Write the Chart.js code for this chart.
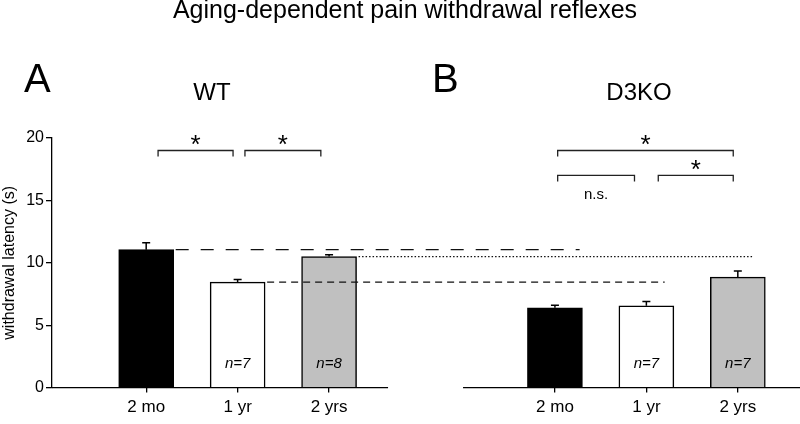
<!DOCTYPE html>
<html>
<head>
<meta charset="utf-8">
<script src="https://cdn.jsdelivr.net/npm/chart.js@4"></script>
<style>
  html, body { margin: 0; padding: 0; background: #fff; }
  #wrap { position: relative; width: 800px; height: 424px; }
</style>
</head>
<body>
<div id="wrap"><canvas id="chart" width="800" height="424"></canvas></div>
<script>
// data
const ages = ['2 mo', '1 yr', '2 yrs'];
const wtMean = [11.05, 8.45, 10.5];
const wtErr = [0.55, 0.22, 0.15];
const koMean = [6.4, 6.55, 8.85];
const koErr = [0.2, 0.35, 0.5];
const wtN = ['', 'n=7', 'n=8'];
const koN = ['', 'n=7', 'n=7'];
const yTicks = [0, 5, 10, 15, 20];

const barColors = ['#000000', '#ffffff', '#c0c0c0'];
const FONT = '"Liberation Sans", Arial, Helvetica, sans-serif';

// layout of the two panels on one linear x axis
const KO_SHIFT = 4.47;
const xPos = (g, i) => i + 1 + (g === 1 ? KO_SHIFT : 0);
const tickPos = [0, 1].flatMap(g => ages.map((a, i) => xPos(g, i)));
const tickLabels = ages.concat(ages);
const axisSpans = [[-0.03, 3.645], [4.465, 8.15]];

// dashed lines from the WT means across to B
const refLines = [
  { i: 0, to: 5.74, dash: [13, 12], width: 1.3 },
  { i: 1, to: 6.67, dash: [7, 5], width: 1.3 },
  { i: 2, to: 7.64, dash: [1.5, 2], width: 1.2 }
];

// significance brackets: x from, x to, level (s), label
const brackets = [
  { x1: 1.13, x2: 1.95, y: 19, text: '*' },
  { x1: 2.08, x2: 2.91, y: 19, text: '*' },
  { x1: 5.50, x2: 7.42, y: 19, text: '*' },
  { x1: 5.50, x2: 6.34, y: 17, text: 'n.s.', below: true },
  { x1: 6.60, x2: 7.42, y: 17, text: '*' }
];

const extras = {
  id: 'extras',
  afterDatasetsDraw(chart) {
    const ctx = chart.ctx;
    const xs = chart.scales.x, ys = chart.scales.y;
    const y0 = ys.getPixelForValue(0);
    ctx.save();

    // x axis, broken between the panels
    ctx.strokeStyle = '#000';
    ctx.lineWidth = 1.3;
    axisSpans.forEach(s => {
      ctx.beginPath();
      ctx.moveTo(xs.getPixelForValue(s[0]), y0);
      ctx.lineTo(xs.getPixelForValue(s[1]), y0);
      ctx.stroke();
    });

    // error bars (upper only)
    [wtErr, koErr].forEach((errs, d) => {
      const means = d === 0 ? wtMean : koMean;
      chart.getDatasetMeta(d).data.forEach((bar, i) => {
        const top = ys.getPixelForValue(means[i] + errs[i]);
        ctx.lineWidth = 1.5;
        ctx.beginPath();
        ctx.moveTo(bar.x, bar.y);
        ctx.lineTo(bar.x, top);
        ctx.moveTo(bar.x - 4, top);
        ctx.lineTo(bar.x + 4, top);
        ctx.stroke();
      });
    });

    // reference lines
    const wtBars = chart.getDatasetMeta(0).data;
    refLines.forEach(r => {
      const b = wtBars[r.i];
      const yy = ys.getPixelForValue(wtMean[r.i]);
      ctx.setLineDash(r.dash);
      ctx.lineWidth = r.width;
      ctx.strokeStyle = '#111';
      ctx.beginPath();
      ctx.moveTo(b.x + b.width / 2 + 2, yy);
      ctx.lineTo(xs.getPixelForValue(r.to), yy);
      ctx.stroke();
    });
    ctx.setLineDash([]);

    // brackets
    ctx.strokeStyle = '#222';
    ctx.lineWidth = 1.3;
    ctx.fillStyle = '#000';
    ctx.textAlign = 'center';
    ctx.textBaseline = 'alphabetic';
    brackets.forEach(b => {
      const a = xs.getPixelForValue(b.x1), c = xs.getPixelForValue(b.x2);
      const yy = ys.getPixelForValue(b.y);
      ctx.beginPath();
      ctx.moveTo(a, yy + 6);
      ctx.lineTo(a, yy);
      ctx.lineTo(c, yy);
      ctx.lineTo(c, yy + 6);
      ctx.stroke();
      if (b.below) {
        ctx.font = '15px ' + FONT;
        ctx.fillText(b.text, (a + c) / 2, yy + 24);
      } else {
        ctx.font = '26px ' + FONT;
        ctx.fillText(b.text, (a + c) / 2, yy + 3);
      }
    });

    // n labels inside bars
    ctx.font = 'italic 15px ' + FONT;
    [wtN, koN].forEach((labels, d) => {
      chart.getDatasetMeta(d).data.forEach((bar, i) => {
        if (labels[i]) ctx.fillText(labels[i], bar.x, y0 - 20);
      });
    });

    // titles
    ctx.font = '25px ' + FONT;
    ctx.fillText('Aging-dependent pain withdrawal reflexes', 405, 18);
    ctx.font = '24px ' + FONT;
    ctx.fillText('WT', 212, 100);
    ctx.fillText('D3KO', 639, 100);
    ctx.textAlign = 'left';
    ctx.font = '40px ' + FONT;
    ctx.fillText('A', 24, 92);
    ctx.fillText('B', 432, 92);
    ctx.restore();
  }
};

Chart.defaults.font.family = FONT;
Chart.defaults.color = '#000';

new Chart(document.getElementById('chart'), {
  type: 'bar',
  data: {
    datasets: [
      {
        label: 'WT',
        data: wtMean.map((v, i) => ({ x: xPos(0, i), y: v })),
        backgroundColor: barColors,
        borderColor: '#000',
        borderWidth: 1.5,
        barThickness: 55,
        grouped: false
      },
      {
        label: 'D3KO',
        data: koMean.map((v, i) => ({ x: xPos(1, i), y: v })),
        backgroundColor: barColors,
        borderColor: '#000',
        borderWidth: 1.5,
        barThickness: 55,
        grouped: false
      }
    ]
  },
  options: {
    responsive: false,
    animation: false,
    layout: { padding: { top: 138, right: 0, bottom: 1, left: 0 } },
    plugins: { legend: { display: false }, tooltip: { enabled: false } },
    scales: {
      x: {
        type: 'linear',
        min: -0.03,
        max: 8.15,
        offset: false,
        border: { display: false },
        grid: { offset: false, drawOnChartArea: false, tickLength: 5, color: '#000', lineWidth: 1.3 },
        afterBuildTicks: s => { s.ticks = tickPos.map(v => ({ value: v })); },
        ticks: { padding: 5, font: { size: 17 }, callback: (v, i) => tickLabels[i] }
      },
      y: {
        min: 0,
        max: 20,
        border: { display: true, color: '#000', width: 1.3 },
        grid: { drawOnChartArea: false, tickLength: 6, color: '#000', lineWidth: 1.3 },
        afterBuildTicks: s => { s.ticks = yTicks.map(v => ({ value: v })); },
        afterFit: s => { s.width = 52; },
        ticks: { padding: 2, font: { size: 16 } },
        title: { display: true, text: 'withdrawal latency (s)', font: { size: 16 }, padding: 0 }
      }
    }
  },
  plugins: [extras]
});
</script>
</body>
</html>
